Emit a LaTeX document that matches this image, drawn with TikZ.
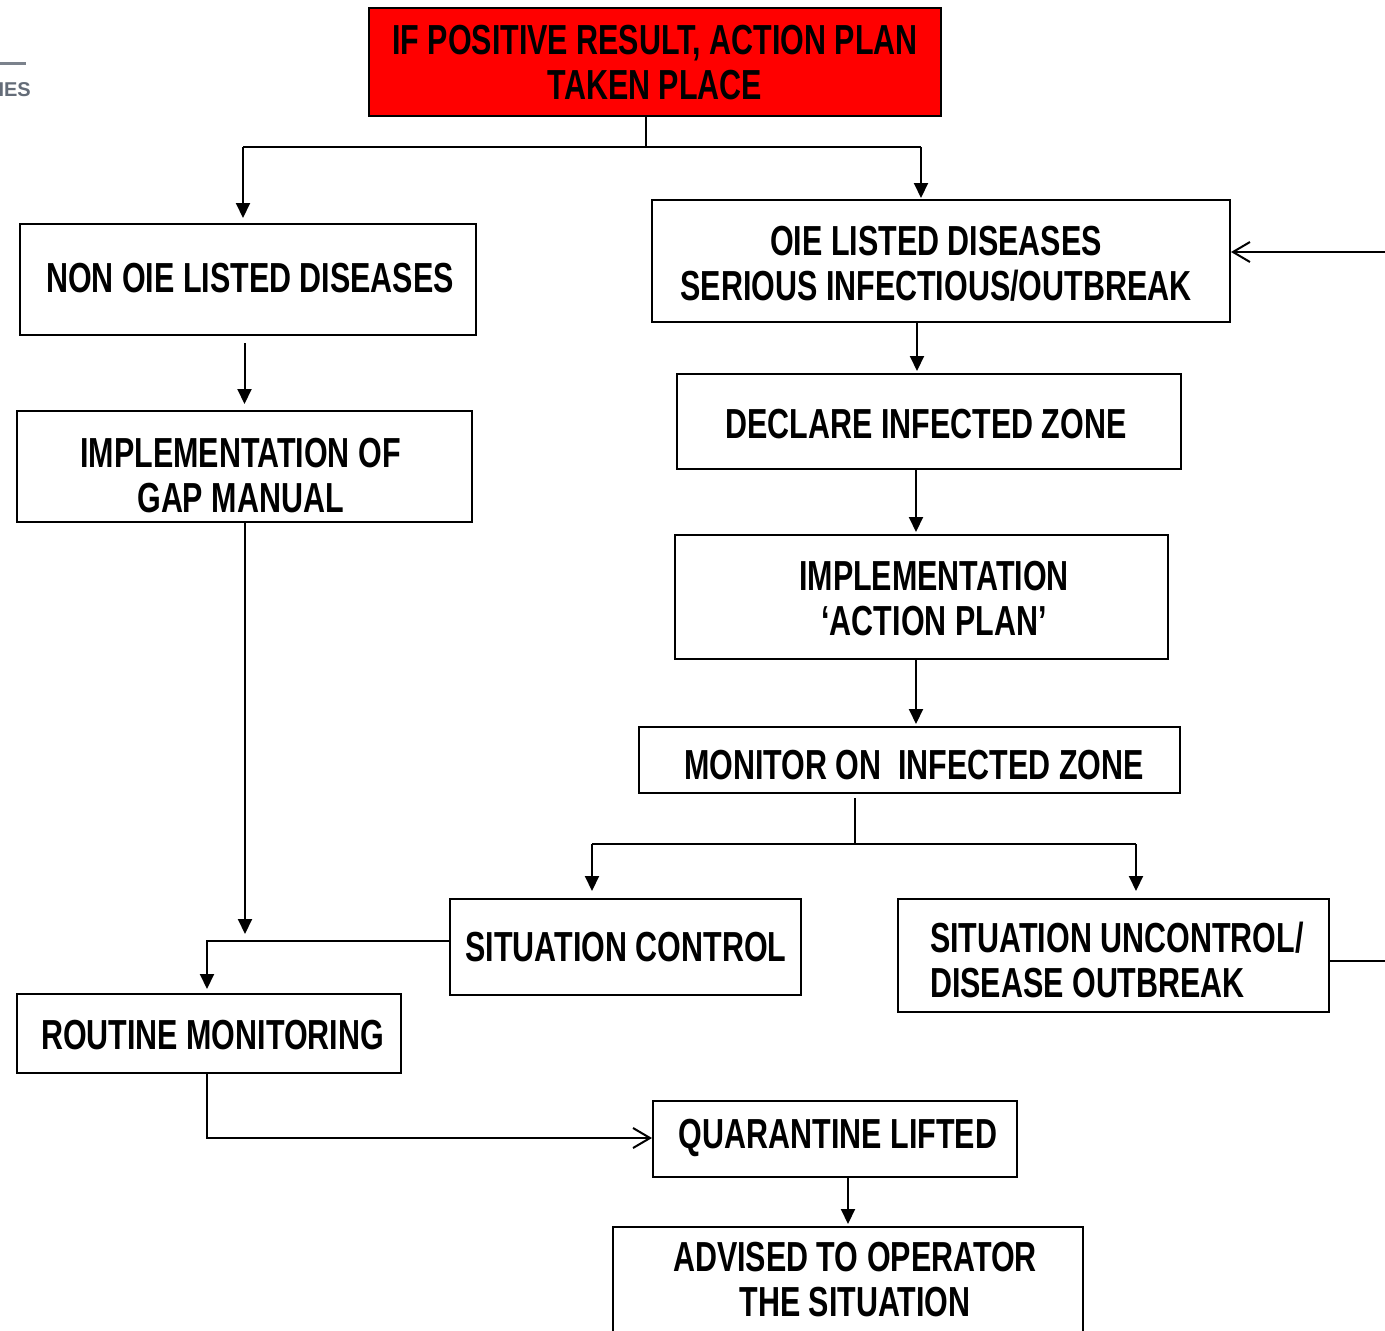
\documentclass[tikz,border=0pt]{standalone}
\usepackage{fontspec}
\setmainfont{Liberation Sans}
\newfontfamily\nar{Liberation Sans}[FakeStretch=0.725]
\usetikzlibrary{arrows.meta}
\definecolor{logogray}{RGB}{100,108,120}
\tikzset{
  box/.style={draw=black, line width=2pt, inner sep=0pt},
  txt/.style={inner sep=0pt, align=center, font=\nar\bfseries\fontsize{42}{45}\selectfont},
  conn/.style={line width=2pt},
  arr/.style={conn, -{Triangle[length=15pt,width=14pt]}},
  oarr/.style={conn, -{Straight Barb[length=17pt,width=20pt,line width=2pt]}},
}
\newcommand{\bx}[6][]{%
  \node[box,#1,minimum width={#5pt-#3pt},minimum height={#6pt-#4pt}] (#2) at ({(#3+#5)/2},{(#4+#6)/2}) {};}
\begin{document}
\begin{tikzpicture}[x=1pt,y=-1pt]
\useasboundingbox (0,0) rectangle (1385,1331);
\fill[white] (0,0) rectangle (1385,1331);
\clip (0,0) rectangle (1385,1331);

% logo fragment
\draw[logogray!85, line width=3pt] (-5,63) -- (26,63);
\node[anchor=east, inner sep=0pt, text=logogray, font=\bfseries\fontsize{20}{22}\selectfont] (logo) at (31,90) {IES};

% boxes
\bx[fill=red]{red}{369}{8}{941}{116}
\bx{nonoie}{20}{224}{476}{335}
\bx{gap}{17}{411}{472}{522}
\bx{oie}{652}{200}{1230}{322}
\bx{declare}{677}{374}{1181}{469}
\bx{impl}{675}{535}{1168}{659}
\bx{monitor}{639}{727}{1180}{793}
\bx{sitctrl}{450}{899}{801}{995}
\bx{uncontrol}{898}{899}{1329}{1012}
\bx{routine}{17}{994}{401}{1073}
\bx{quarantine}{653}{1101}{1017}{1177}
\bx{advised}{613}{1227}{1083}{1350}

% texts
\node[txt] (redT) at (655,62.5) {IF POSITIVE RESULT, ACTION PLAN\\TAKEN PLACE};
\node[txt] (nonoieT) at (250,278.5) {NON OIE LISTED DISEASES};
\node[txt] (gapT) at (240.5,475.5) {IMPLEMENTATION OF\\GAP MANUAL};
\node[txt] (oieT) at (936,263.5) {OIE LISTED DISEASES\\SERIOUS INFECTIOUS/OUTBREAK};
\node[txt] (declareT) at (926,424.5) {DECLARE INFECTED ZONE};
\node[txt] (implT) at (934,599) {IMPLEMENTATION\\‘ACTION PLAN’};
\node[txt] (monitorT) at (914,765.5) {MONITOR ON\ \ INFECTED ZONE};
\node[txt] (sitctrlT) at (626,947.5) {SITUATION CONTROL};
\node[txt, anchor=west, align=left] (uncontrolT) at (930,959.5) {SITUATION UNCONTROL/\\DISEASE OUTBREAK};
\node[txt] (routineT) at (212.5,1035.5) {ROUTINE MONITORING};
\node[txt] (quarantineT) at (838,1137.5) {QUARANTINE LIFTED};
\node[txt] (advisedT) at (855,1279.5) {ADVISED TO OPERATOR\\THE SITUATION};

% junction coordinates
\coordinate (t0) at (646,147);
\coordinate (tl) at (243,147);
\coordinate (tr) at (921,147);
\coordinate (v1) at (917,0);
\coordinate (v2) at (916,0);
\coordinate (jr) at (207,941);
\coordinate (m0) at (855,844);
\coordinate (ml) at (592,844);
\coordinate (mr) at (1136,844);
\coordinate (ex1) at (1390,961);
\coordinate (ex2) at (1390,252);
\coordinate (q0) at (207,1138);
\coordinate (v3) at (848,0);
\coordinate (g0) at (245,0);

% connectors
\draw[conn] (red.south -| t0) -- (t0);
\draw[conn] (tl) -- (tr);
\draw[arr, shorten >=5pt] (tl) -- (tl |- nonoie.north);
\draw[arr, shorten >=1pt] (tr) -- (tr |- oie.north);
\draw[arr, shorten <=7pt, shorten >=6pt] (nonoie.south -| gap.north) -- (gap.north);
\draw[arr, shorten >=7pt] (gap.south -| g0) -- (g0 |- jr);
\draw[arr, shorten >=4pt] (sitctrl.west |- jr) -- (jr) -- (jr |- routine.north);
\draw[arr, shorten >=2pt] (oie.south -| v1) -- (declare.north -| v1);
\draw[arr, shorten >=2pt] (declare.south -| v2) -- (impl.north -| v2);
\draw[arr, shorten >=2pt] (impl.south -| v2) -- (monitor.north -| v2);
\draw[conn, shorten <=4pt] (monitor.south -| m0) -- (m0);
\draw[conn] (ml) -- (mr);
\draw[arr, shorten >=7pt] (ml) -- (ml |- sitctrl.north);
\draw[arr, shorten >=7pt] (mr) -- (mr |- uncontrol.north);
\draw[conn] (uncontrol.east |- ex1) -- (ex1);
\draw[oarr] (ex2) -- (oie.east |- ex2);
\draw[oarr] (routine.south -| q0) -- (q0) -- (quarantine.west |- q0);
\draw[arr, shorten >=2pt] (quarantine.south -| v3) -- (advised.north -| v3);
\end{tikzpicture}
\end{document}
